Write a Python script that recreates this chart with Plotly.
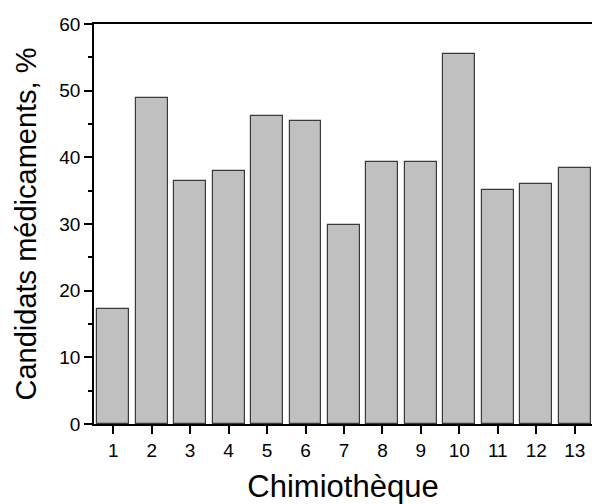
import plotly.graph_objects as go

categories = [1, 2, 3, 4, 5, 6, 7, 8, 9, 10, 11, 12, 13]
values = [17.2, 48.9, 36.5, 37.9, 46.2, 45.4, 29.8, 39.3, 39.25, 55.5, 35.05, 35.95, 38.4]
tick_labels = [str(c) for c in categories]

fig = go.Figure(go.Bar(
    x=categories, y=values, width=0.83,
    marker=dict(color="#c0c0c0", line=dict(color="#3a3a3a", width=1.2)),
))

font = "Liberation Sans, Arial, sans-serif"
fig.update_layout(
    width=592, height=504,
    margin=dict(l=94, r=0, t=24, b=80),
    plot_bgcolor="white", paper_bgcolor="white",
    showlegend=False,
    font=dict(family=font, color="black"),
    bargap=0,
)
fig.update_xaxes(
    range=[0.5, 13.45], tickmode="array", tickvals=categories, ticktext=tick_labels,
    ticks="outside", ticklen=8, tickwidth=1.5, tickcolor="black",
    showline=True, linecolor="black", linewidth=1.5, mirror=True,
    showgrid=False, zeroline=False,
    tickfont=dict(size=19),
    title=dict(text="Chimiothèque", font=dict(size=31), standoff=21),
)
fig.update_yaxes(
    range=[0, 60], tickvals=[0, 10, 20, 30, 40, 50, 60],
    ticks="outside", ticklen=8, tickwidth=1.5, tickcolor="black",
    minor=dict(dtick=5, ticks="outside", ticklen=4, tickwidth=1.5, tickcolor="black"),
    showline=True, linecolor="black", linewidth=1.5,
    showgrid=False, zeroline=False,
    tickfont=dict(size=19),
    title=dict(text="Candidats médicaments, %", font=dict(size=29), standoff=14),
)
fig.write_html(
    "out.html",
    config={"displayModeBar": False},
    post_script="document.body.style.margin='0';document.body.style.overflow='hidden';",
)
